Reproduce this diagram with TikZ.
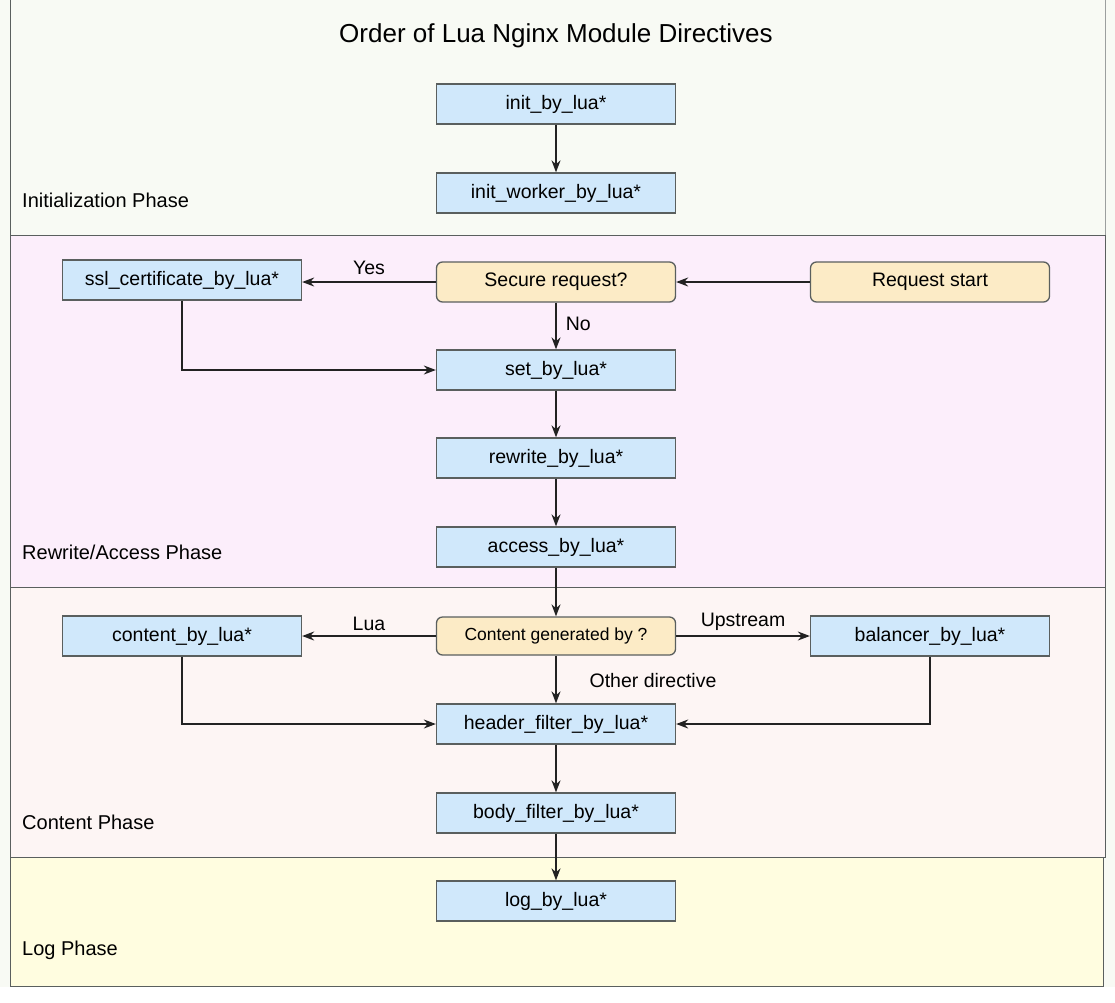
\documentclass[tikz,border=0pt]{standalone}
\usepackage{fontspec}
\setmainfont{Liberation Sans}
\usetikzlibrary{arrows.meta}
\definecolor{bgwhite}{HTML}{F8FAF4}
\definecolor{rwpink}{HTML}{FCEEFB}
\definecolor{ctpink}{HTML}{FDF5F4}
\definecolor{logyel}{HTML}{FFFDE0}
\definecolor{boxblue}{HTML}{D0E8FB}
\definecolor{boxorange}{HTML}{FCEBC6}
\definecolor{edgegray}{HTML}{5A5F5E}
\definecolor{linegray}{HTML}{222222}
\tikzset{
  x=1pt, y=-1pt,
  boxfont/.style={font=\fontsize{19.5}{22}\selectfont},
  dirbox/.style={draw=edgegray, line width=1.3pt, fill=boxblue, minimum width=239pt, minimum height=40pt, inner sep=0pt, boxfont},
  decbox/.style={draw=edgegray, line width=1.3pt, fill=boxorange, rounded corners=6pt, minimum width=239pt, minimum height=40pt, inner sep=0pt, boxfont},
  conn/.style={draw=linegray, line width=1.5pt, -{Stealth[length=12pt,width=9pt]}},
  lbl/.style={boxfont, inner sep=0pt},
  phase/.style={anchor=west, font=\fontsize{20}{23}\selectfont, inner sep=0pt},
  region/.style={draw=edgegray, line width=1pt}
}
\begin{document}
\begin{tikzpicture}
\useasboundingbox (0,0) rectangle (1115,1002);
% background and phase regions
\fill[bgwhite] (0,0) rectangle (1115,1002);
\fill[white] (0,987) rectangle (1115,1002);
\draw[region] (10,0) -- (10,986);
\filldraw[region, fill=rwpink] (10,235) rectangle (1105,587);
\filldraw[region, fill=ctpink] (10,587) rectangle (1105,857);
\filldraw[region, fill=logyel] (10,857) -- (1103,857) -- (1103,986) -- (10,986) -- cycle;
\draw[region, draw=edgegray!60] (1105,0) -- (1105,235);

% title
\node[font=\fontsize{26}{30}\selectfont, inner sep=0pt] (title) at (556,36) {Order of Lua Nginx Module Directives};

% phase labels
\node[phase] (pinit) at (22,200) {Initialization Phase};
\node[phase] (prw) at (22,552) {Rewrite/Access Phase};
\node[phase] (pct) at (22,822) {Content Phase};
\node[phase] (plog) at (22,950) {Log Phase};

% nodes
\node[dirbox] (init) at (556,104) {init\_by\_lua*};
\node[dirbox] (initw) at (556,193) {init\_worker\_by\_lua*};
\node[dirbox] (ssl) at (182,280) {ssl\_certificate\_by\_lua*};
\node[decbox] (secure) at (556,282) {Secure request?};
\node[decbox] (reqstart) at (930,282) {Request start};
\node[dirbox] (set) at (556,370) {set\_by\_lua*};
\node[dirbox] (rewrite) at (556,458) {rewrite\_by\_lua*};
\node[dirbox] (access) at (556,547) {access\_by\_lua*};
\node[dirbox] (content) at (182,636) {content\_by\_lua*};
\node[decbox, minimum height=38pt, font=\fontsize{17.5}{20}\selectfont] (cgen) at (556,636) {Content generated by ?};
\node[dirbox] (balancer) at (930,636) {balancer\_by\_lua*};
\node[dirbox] (header) at (556,724) {header\_filter\_by\_lua*};
\node[dirbox] (body) at (556,813) {body\_filter\_by\_lua*};
\node[dirbox] (log) at (556,901) {log\_by\_lua*};

% connectors
\draw[conn] (init) -- (initw);
\draw[conn] (reqstart) -- (secure);
\draw[conn] (secure) -- node[lbl, above=7pt] (yes) {Yes} (ssl.east |- secure);
\draw[conn] (secure) -- node[lbl, right=9pt, pos=0.45] (no) {No} (set);
\draw[conn] (ssl.south) |- (set.west);
\draw[conn] (set) -- (rewrite);
\draw[conn] (rewrite) -- (access);
\draw[conn] (access) -- (cgen);
\draw[conn] (cgen) -- node[lbl, above=5pt] (lua) {Lua} (content);
\draw[conn] (cgen) -- node[lbl, above=5pt] (up) {Upstream} (balancer);
\draw[conn] (cgen) -- (header);
\node[lbl] (other) at (653,681) {Other directive};
\draw[conn] (content.south) |- (header.west);
\draw[conn] (balancer.south) |- (header.east);
\draw[conn] (header) -- (body);
\draw[conn] (body) -- (log);
\end{tikzpicture}
\end{document}
